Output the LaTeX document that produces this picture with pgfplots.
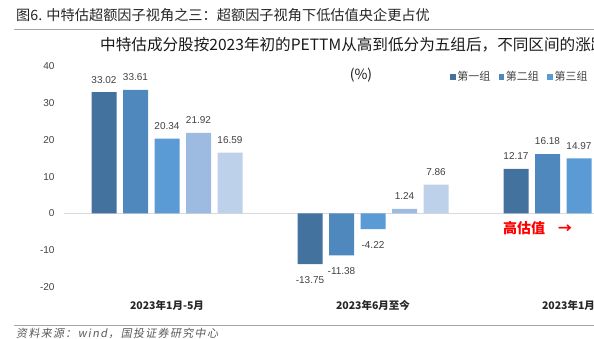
\documentclass[border=0pt]{standalone}
\usepackage{pgfplots}
\pgfplotsset{compat=1.18}
\usepackage{fontspec}
\setmainfont{Liberation Sans}
\newfontfamily\cjk{Noto Sans CJK SC}
\newfontfamily\cjkit[FakeSlant=0.18, LetterSpace=12]{Noto Sans CJK SC}
\definecolor{c1}{HTML}{44729E}
\definecolor{c2}{HTML}{4F88BD}
\definecolor{c3}{HTML}{5B9BD5}
\definecolor{c4}{HTML}{9DBBE1}
\definecolor{c5}{HTML}{BDD1EB}
\definecolor{txt}{HTML}{404040}
\begin{document}
\begin{tikzpicture}[x=1pt,y=1pt]
\useasboundingbox (0,0) rectangle (594,339);
\clip (0,0) rectangle (594,339);
\node[anchor=west, inner sep=0, font=\cjk\fontsize{14.2}{14.2}\selectfont, text=black!85] at (16,324) {图6. 中特估超额因子视角之三：超额因子视角下低估值央企更占优};
\draw[gray!70, line width=0.8pt] (14,310) -- (594,310);
\node[anchor=west, inner sep=0, font=\cjk\fontsize{15.6}{15.6}\selectfont, text=black!90] at (100,294) {中特估成分股按2023年初的PETTM从高到低分为五组后，不同区间的涨跌幅};
\node[inner sep=0, font=\cjk\fontsize{14}{14}\selectfont, text=black!90] at (361,264) {(\%)};
\begin{axis}[
  at={(64pt,52pt)}, anchor=south west,
  x=206pt, y=3.675pt,
  xmin=-0.5, xmax=2.5, ymin=-20, ymax=40,
  ybar=6.5pt, bar width=25pt,
  axis line style={draw=none},
  tick style={draw=none},
  /pgf/number format/assume math mode=true,
  ytick={-20,-10,...,40},
  xtick={0,1,2},
  xticklabels={2023年1月-5月,2023年6月至今,2023年1月至今},
  yticklabel style={font=\fontsize{10}{10}\selectfont, text=txt, xshift=-6pt},
  xticklabel style={font=\cjk\bfseries\fontsize{10.5}{10.5}\selectfont, text=black!85, yshift=-6pt},
  extra y ticks={0}, extra y tick labels={},
  extra y tick style={grid=major, grid style={draw=gray!30, line width=0.8pt}},
  point meta=y,
  nodes near coords={\pgfmathprintnumber[fixed,fixed zerofill,precision=2,assume math mode=true]{\pgfplotspointmeta}},
  nodes near coords align={vertical},
  visualization depends on={rawy \as \rawy},
  every node near coord/.append style={font=\fontsize{10}{10}\selectfont, text=txt, yshift={\rawy<0?-9pt:5.5pt}},
  legend columns=-1,
  legend image code/.code={\fill[#1] (0pt,-2.8pt) rectangle (5.6pt,2.8pt);},
  legend style={at={(0.6246,0.952)}, anchor=west, draw=none, fill=none, inner sep=0pt,
    font=\cjk\fontsize{11}{11}\selectfont, text=txt,
    nodes={inner sep=1.5pt},
    /tikz/every even column/.append style={column sep=7pt}},
]
\addplot[fill=c1, draw=none] coordinates {(0,33.02) (1,-13.75) (2,12.17)};
\addplot[fill=c2, draw=none] coordinates {(0,33.61) (1,-11.38) (2,16.18)};
\addplot[fill=c3, draw=none] coordinates {(0,20.34) (1,-4.22) (2,14.97)};
\addplot[fill=c4, draw=none] coordinates {(0,21.92) (1,1.24)};
\addplot[fill=c5, draw=none] coordinates {(0,16.59) (1,7.86)};
\legend{第一组,第二组,第三组,第四组,第五组}
\end{axis}
\node[anchor=west, inner sep=0, text=red, font=\cjk\bfseries\fontsize{14}{14}\selectfont] at (503,111) {高估值\hspace{13pt}→};
\draw[gray!70, line width=0.8pt] (14,14) -- (594,14);
\node[anchor=west, inner sep=0, font=\cjkit\fontsize{11}{11}\selectfont, text=black!65] at (16,5.5) {资料来源：wind，国投证券研究中心};
\end{tikzpicture}
\end{document}
